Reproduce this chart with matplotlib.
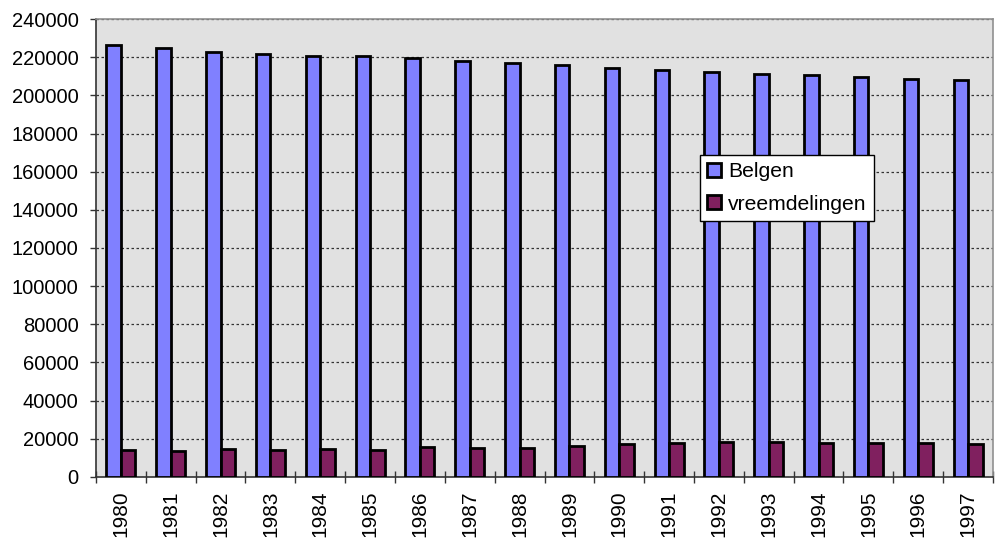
import matplotlib
matplotlib.use("Agg")
import matplotlib.pyplot as plt
import numpy as np

years = [str(y) for y in range(1980, 1998)]
belgen = [226300, 224600, 222700, 221700, 220600, 220600, 219400, 218200, 216800,
          215700, 214200, 213300, 212400, 211200, 210500, 209600, 208700, 208000]
vreemdelingen = [14300, 13800, 14500, 14100, 14800, 14100, 15400, 15200, 15000,
                 16100, 17100, 17600, 18200, 18200, 18000, 18000, 17600, 17300]
yticks = list(range(0, 240001, 20000))

plt.rcParams['font.family'] = ['Liberation Sans', 'DejaVu Sans']

fig = plt.figure(figsize=(10, 5.45), dpi=100)
ax = fig.add_axes([0.096, 0.125, 0.897, 0.84])
ax.set_facecolor('#E1E1E1')

x = np.arange(len(years))
w = 0.29
ax.bar(x - w/2, belgen, width=w, color='#8080FF', edgecolor='black', linewidth=2.0,
       label='Belgen', zorder=3)
ax.bar(x + w/2, vreemdelingen, width=w, color='#80205F', edgecolor='black', linewidth=2.0,
       label='vreemdelingen', zorder=3)

ax.set_xlim(-0.5, len(years) - 0.5)
ax.set_ylim(0, 240000)
ax.set_yticks(yticks)
ax.set_yticklabels([str(v) for v in yticks], fontsize=14.5)
ax.yaxis.grid(True, linestyle=(0, (2, 2)), color='#333333', linewidth=0.9, zorder=0)

ax.set_xticks(np.arange(len(years) + 1) - 0.5, minor=False)
ax.set_xticklabels([])
ax.set_xticks(x, minor=True)
ax.set_xticklabels(years, minor=True, rotation=90, fontsize=15)
ax.tick_params(axis='x', which='minor', length=0, pad=10)
ax.tick_params(axis='x', which='major', length=9, width=1, color='#333333', direction='inout')
ax.tick_params(axis='y', length=4.5, width=1, color='#333333', direction='out', pad=8)

for s in ['top', 'right']:
    ax.spines[s].set_color('#909090')
    ax.spines[s].set_linewidth(1.2)
for s in ['left', 'bottom']:
    ax.spines[s].set_color('#333333')
    ax.spines[s].set_linewidth(1.2)

leg = ax.legend(loc='upper left', bbox_to_anchor=(0.673, 0.703), fontsize=15.2,
                frameon=True, fancybox=False, framealpha=1, edgecolor='black',
                handlelength=0.68, handleheight=0.68, handletextpad=0.3,
                borderpad=0.35, labelspacing=0.62, borderaxespad=0)
leg.get_frame().set_linewidth(1.0)
leg.set_zorder(5)

fig.savefig('out.png', dpi=100)
